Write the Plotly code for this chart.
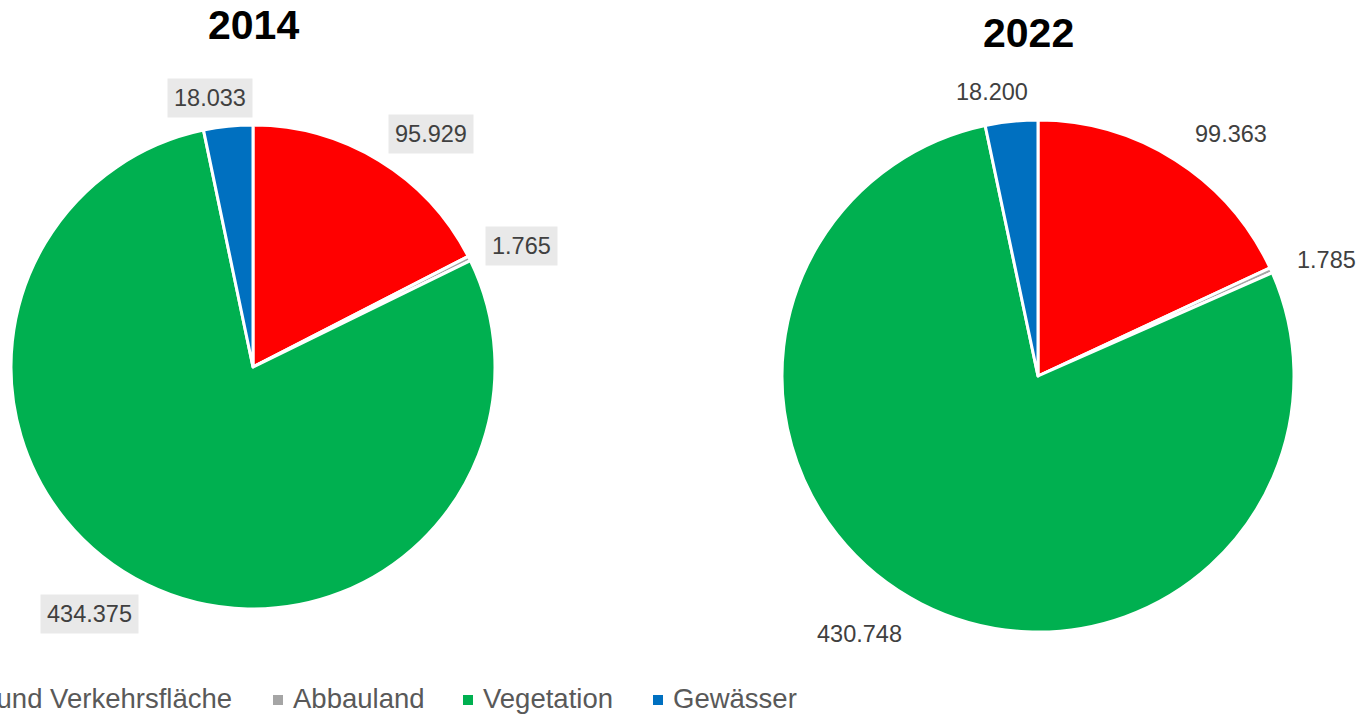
import math
import plotly.graph_objects as go

# ---- data ----
categories = ["Siedlungs- und Verkehrsfläche", "Abbauland", "Vegetation", "Gewässer"]
values_2014 = [95929, 1765, 434375, 18033]
values_2022 = [99363, 1785, 430748, 18200]
years = ["2014", "2022"]

# ---- style ----
W, H = 1358, 714
colors = ["#ff0000", "#a5a5a5", "#00b050", "#0070c0"]
text_color = "#404040"
font_family = "Liberation Sans, Arial, sans-serif"
# pie geometry in pixels: (cx, cy, r)
pie_geom = [(253, 367, 242), (1038, 376, 256)]
label_bg = ["#e9e9e9", "rgba(0,0,0,0)"]
# Excel-like label placement tweaks (angle nudge in degrees, radial factor)
label_nudge = [6.0, 2.4, 7.5, -3.2]
label_dist = [1.21, 1.215, 1.225, 1.125]


def fmt(v):
    return f"{v:,}".replace(",", ".")


fig = go.Figure()
annotations = []
shapes = []

for i, (vals, year) in enumerate(zip([values_2014, values_2022], years)):
    cx, cy, r = pie_geom[i]
    dom_x = [(cx - r) / W, (cx + r) / W]
    dom_y = [1 - (cy + r) / H, 1 - (cy - r) / H]
    fig.add_trace(go.Pie(
        labels=categories,
        values=vals,
        sort=False,
        direction="clockwise",
        rotation=0,
        marker=dict(colors=colors, line=dict(color="white", width=3)),
        textinfo="none",
        showlegend=False,
        domain=dict(x=dom_x, y=dom_y),
        name=year,
    ))
    # data labels computed from the slice angles
    total = sum(vals)
    cum = 0.0
    for j, v in enumerate(vals):
        mid = (cum + v / 2) / total * 360.0
        cum += v
        ang = math.radians(mid + label_nudge[j])
        d = r * label_dist[j]
        px = cx + d * math.sin(ang)
        py = cy - d * math.cos(ang)
        annotations.append(dict(
            x=px / W, y=1 - py / H, xref="paper", yref="paper",
            text=fmt(v), showarrow=False,
            font=dict(size=23.5, color=text_color, family=font_family),
            bgcolor=label_bg[i], borderpad=6,
            xanchor="center", yanchor="middle",
        ))

# titles
title_pos = [(253, 25), (1028, 33)]
for (tx, ty), year in zip(title_pos, years):
    annotations.append(dict(
        x=tx / W, y=1 - ty / H, xref="paper", yref="paper",
        text=f"<b>{year}</b>", showarrow=False,
        font=dict(size=41, color="#000000", family=font_family),
        xanchor="center", yanchor="middle",
    ))

# legend (bottom, first entry cut off at the left edge like the reference)
legend_text_x = [234, 291, 481, 671]  # first: right edge of text; others: left edge
legend_y = 698
sq = 10
for j, cat in enumerate(categories):
    if j == 0:
        annotations.append(dict(
            x=legend_text_x[0] / W, y=1 - legend_y / H, xref="paper", yref="paper",
            text=cat, showarrow=False, xanchor="right", yanchor="middle",
            font=dict(size=27.5, color="#595959", family=font_family),
        ))
        continue
    tx = legend_text_x[j]
    annotations.append(dict(
        x=tx / W, y=1 - legend_y / H, xref="paper", yref="paper",
        text=cat, showarrow=False, xanchor="left", yanchor="middle",
        font=dict(size=27.5, color="#595959", family=font_family),
    ))
    shapes.append(dict(
        type="rect", xref="paper", yref="paper",
        x0=(tx - 8 - sq) / W, x1=(tx - 8) / W,
        y0=1 - (legend_y + 2 + sq / 2) / H, y1=1 - (legend_y + 2 - sq / 2) / H,
        fillcolor=colors[j], line=dict(width=0),
    ))

fig.update_layout(
    width=W, height=H,
    margin=dict(l=0, r=0, t=0, b=0),
    paper_bgcolor="white", plot_bgcolor="white",
    annotations=annotations, shapes=shapes,
    showlegend=False,
)

fig.write_html(
    "out.html",
    config={"displayModeBar": False},
    post_script="document.body.style.margin='0';document.body.style.overflow='hidden';",
)
